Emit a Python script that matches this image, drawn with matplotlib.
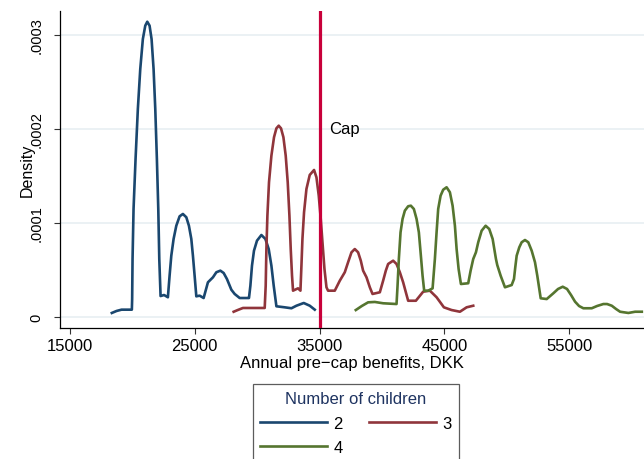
import matplotlib
matplotlib.use("Agg")
import matplotlib.pyplot as plt

plt.rcParams["font.family"] = ["Liberation Sans", "DejaVu Sans"]

# Kernel density of annual pre-cap benefits (DKK) by number of children
kids2_x = [18353, 18730, 19132, 19958, 19982, 20014, 20094, 20255, 20439, 20632,
           20840, 21033, 21193, 21378, 21538, 21699, 21835, 21964, 22076, 22156,
           22260, 22541, 22846, 22982, 23119, 23303, 23520, 23785, 24049, 24322,
           24531, 24723, 24852, 24988, 25124, 25389, 25710, 26055, 26456, 26729,
           27050, 27315, 27579, 27932, 28197, 28598, 29264, 29344, 29457, 29585,
           29745, 29986, 30339, 30660, 30925, 31141, 31326, 31542, 32208, 32746,
           33147, 33733, 34214, 34615]
kids2_y = [0.043e-4, 0.064e-4, 0.078e-4, 0.078e-4, 0.191e-4, 0.617e-4, 1.149e-4,
           1.681e-4, 2.213e-4, 2.638e-4, 2.957e-4, 3.099e-4, 3.141e-4, 3.099e-4,
           2.957e-4, 2.638e-4, 2.213e-4, 1.681e-4, 1.149e-4, 0.617e-4, 0.223e-4,
           0.234e-4, 0.210e-4, 0.439e-4, 0.652e-4, 0.830e-4, 0.971e-4, 1.071e-4,
           1.096e-4, 1.061e-4, 0.971e-4, 0.830e-4, 0.652e-4, 0.439e-4, 0.220e-4,
           0.227e-4, 0.202e-4, 0.369e-4, 0.422e-4, 0.476e-4, 0.493e-4, 0.468e-4,
           0.404e-4, 0.290e-4, 0.245e-4, 0.202e-4, 0.202e-4, 0.202e-4, 0.333e-4,
           0.546e-4, 0.705e-4, 0.812e-4, 0.872e-4, 0.830e-4, 0.723e-4, 0.546e-4,
           0.333e-4, 0.114e-4, 0.103e-4, 0.093e-4, 0.120e-4, 0.149e-4, 0.120e-4,
           0.078e-4]

kids3_x = [28117, 28438, 28863, 30604, 30684, 30740, 30820, 30949, 31141, 31350,
           31542, 31727, 31911, 32104, 32288, 32449, 32585, 32690, 32794, 32874,
           33275, 33468, 33548, 33628, 33757, 33949, 34214, 34559, 34751, 34936,
           35096, 35233, 35393, 35554, 35682, 36220, 36621, 37022, 37286, 37559,
           37824, 38089, 38305, 38490, 38763, 39028, 39244, 39830, 40094, 40310,
           40496, 40897, 41169, 41434, 41699, 41915, 42100, 42718, 43303, 43841,
           44378, 44964, 45582, 46248, 46785, 47315]
kids3_y = [0.056e-4, 0.074e-4, 0.096e-4, 0.096e-4, 0.333e-4, 0.723e-4, 1.078e-4,
           1.433e-4, 1.716e-4, 1.912e-4, 2.007e-4, 2.035e-4, 2.007e-4, 1.912e-4,
           1.716e-4, 1.433e-4, 1.078e-4, 0.723e-4, 0.439e-4, 0.280e-4, 0.305e-4,
           0.280e-4, 0.546e-4, 0.830e-4, 1.114e-4, 1.362e-4, 1.511e-4, 1.564e-4,
           1.486e-4, 1.290e-4, 1.043e-4, 0.795e-4, 0.511e-4, 0.316e-4, 0.280e-4,
           0.280e-4, 0.386e-4, 0.476e-4, 0.582e-4, 0.688e-4, 0.723e-4, 0.688e-4,
           0.599e-4, 0.493e-4, 0.422e-4, 0.316e-4, 0.245e-4, 0.263e-4, 0.386e-4,
           0.493e-4, 0.564e-4, 0.599e-4, 0.564e-4, 0.476e-4, 0.369e-4, 0.263e-4,
           0.173e-4, 0.173e-4, 0.269e-4, 0.280e-4, 0.210e-4, 0.103e-4, 0.074e-4,
           0.056e-4, 0.103e-4, 0.120e-4]

kids4_x = [37904, 38386, 38891, 39429, 40094, 41169, 41250, 41354, 41490, 41651,
           41835, 42100, 42317, 42557, 42774, 42958, 43119, 43255, 43384, 43705,
           44058, 44242, 44378, 44507, 44699, 44908, 45181, 45445, 45662, 45847,
           45983, 46143, 46328, 46914, 47106, 47315, 47531, 47716, 47989, 48309,
           48598, 48871, 49136, 49240, 49513, 49858, 50395, 50580, 50684, 50796,
           51005, 51197, 51462, 51727, 52000, 52265, 52449, 52609, 52722, 53203,
           53733, 54110, 54487, 54832, 55153, 55474, 55795, 56139, 56813, 57239,
           57744, 58041, 58418, 58762, 59084, 59749, 60287, 60825]
kids4_y = [0.074e-4, 0.117e-4, 0.156e-4, 0.160e-4, 0.146e-4, 0.138e-4, 0.333e-4,
           0.617e-4, 0.901e-4, 1.043e-4, 1.131e-4, 1.178e-4, 1.184e-4, 1.149e-4,
           1.043e-4, 0.901e-4, 0.652e-4, 0.439e-4, 0.280e-4, 0.280e-4, 0.305e-4,
           0.617e-4, 0.901e-4, 1.149e-4, 1.290e-4, 1.354e-4, 1.380e-4, 1.327e-4,
           1.184e-4, 0.971e-4, 0.723e-4, 0.511e-4, 0.351e-4, 0.359e-4, 0.493e-4,
           0.617e-4, 0.688e-4, 0.795e-4, 0.918e-4, 0.971e-4, 0.936e-4, 0.830e-4,
           0.617e-4, 0.553e-4, 0.439e-4, 0.316e-4, 0.340e-4, 0.404e-4, 0.529e-4,
           0.652e-4, 0.741e-4, 0.795e-4, 0.819e-4, 0.795e-4, 0.705e-4, 0.582e-4,
           0.439e-4, 0.298e-4, 0.199e-4, 0.191e-4, 0.252e-4, 0.298e-4, 0.322e-4,
           0.298e-4, 0.234e-4, 0.163e-4, 0.117e-4, 0.093e-4, 0.093e-4, 0.117e-4,
           0.138e-4, 0.138e-4, 0.120e-4, 0.085e-4, 0.056e-4, 0.043e-4, 0.056e-4,
           0.056e-4]

cap = 35000
x_ticks = [15000, 25000, 35000, 45000, 55000]
y_ticks = [0, 0.0001, 0.0002, 0.0003]
y_tick_labels = ["0", ".0001", ".0002", ".0003"]

fig = plt.figure(figsize=(6.44, 4.60), dpi=100)
ax = fig.add_axes([60 / 644, 131 / 460, 584 / 644, 317 / 460])

lw = 1.9
l2, = ax.plot(kids2_x, kids2_y, color="#1a476f", lw=lw, solid_joinstyle="round", label="2")
l3, = ax.plot(kids3_x, kids3_y, color="#90353b", lw=lw, solid_joinstyle="round", label="3")
l4, = ax.plot(kids4_x, kids4_y, color="#55752f", lw=lw, solid_joinstyle="round", label="4")
ax.axvline(cap, color="#c8003a", lw=2.3, zorder=5)
ax.annotate("Cap", xy=(cap, 0.0002), xytext=(7, 0), textcoords="offset points",
            ha="left", va="center", fontsize=12)

ax.set_xlim(14200, 61000)
ax.set_ylim(-0.0000117, 0.0003255)
ax.set_xticks(x_ticks)
ax.set_xticklabels([str(t) for t in x_ticks])
ax.set_yticks(y_ticks)
ax.set_yticklabels(y_tick_labels, rotation=90, va="center")
ax.tick_params(axis="both", length=4.5, width=0.8, color="#333333")
ax.tick_params(axis="x", labelsize=12, pad=2.5)
ax.tick_params(axis="y", labelsize=10.5, pad=7.5)
ax.grid(axis="y", color="#e8eff2", lw=1.2)
ax.set_axisbelow(True)
for side in ["top", "right"]:
    ax.spines[side].set_visible(False)
for side in ["left", "bottom"]:
    ax.spines[side].set_linewidth(0.9)

ax.set_xlabel("Annual pre\u2212cap benefits, DKK", fontsize=12, labelpad=1.5)
ax.set_ylabel("Density", fontsize=11.5, va="center")
ax.yaxis.set_label_coords(-33 / 584, 0.5)

# row-wise order: 2, 3 on the first row, 4 below
leg = fig.legend([l2, l4, l3], ["2", "4", "3"], loc="upper center",
                 bbox_to_anchor=(356 / 644, 1 - 385 / 460), borderaxespad=0,
                 ncol=2, title="Number of children", fontsize=12,
                 title_fontsize=12, handlelength=4.0, handletextpad=0.4,
                 columnspacing=1.6, labelspacing=0.55, borderpad=0.45,
                 fancybox=False, frameon=True)
leg.get_frame().set_edgecolor("#333333")
leg.get_frame().set_linewidth(0.9)
leg.get_title().set_color("#1f3461")

fig.savefig("out.png", dpi=100)
